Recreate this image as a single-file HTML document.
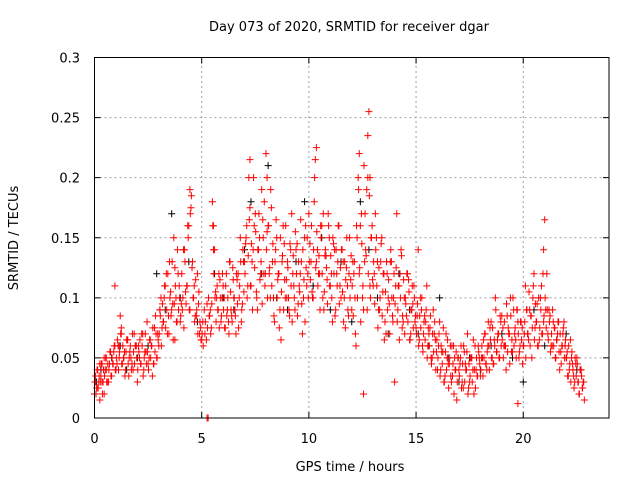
<!DOCTYPE html>
<html><head><meta charset="utf-8"><style>
html,body{margin:0;padding:0;background:#fff;}
svg text{font-family:"DejaVu Sans","Liberation Sans",sans-serif;font-size:13px;fill:#000;}
</style></head><body>
<svg id="chart" width="640" height="480" viewBox="0 0 640 480" xmlns="http://www.w3.org/2000/svg">
<text x="349" y="31" text-anchor="middle">Day 073 of 2020, SRMTID for receiver dgar</text>
<text x="350" y="471" text-anchor="middle">GPS time / hours</text>
<text transform="translate(18,238) rotate(-90)" text-anchor="middle">SRMTID / TECUs</text>
<g id="grid"></g>
<g id="blk"></g>
<g id="red"></g>
<g id="axes"></g>
</svg>
<script>
const xTicks=[0,5,10,15,20];
const yTicks=[0,0.05,0.1,0.15,0.2,0.25,0.3];
const yTickLabels=["0","0.05","0.1","0.15","0.2","0.25","0.3"];
const blackPoints=[[0.1,0.03],[0.3,0.04],[0.8,0.05],[1.2,0.06],[1.5,0.04],[2.0,0.05],[2.5,0.06],[2.9,0.12],[3.3,0.09],[3.6,0.17],[4.0,0.1],[4.4,0.13],[4.8,0.08],[5.6,0.12],[6.0,0.1],[6.5,0.09],[7.0,0.14],[7.3,0.18],[7.8,0.12],[8.1,0.21],[8.5,0.1],[9.0,0.09],[9.4,0.13],[9.8,0.18],[10.2,0.11],[10.6,0.15],[11.0,0.09],[11.5,0.13],[12.0,0.08],[12.4,0.18],[12.8,0.14],[13.2,0.1],[13.7,0.07],[14.2,0.12],[14.7,0.09],[15.1,0.07],[15.6,0.06],[16.1,0.1],[16.5,0.05],[17.0,0.03],[17.5,0.05],[18.0,0.04],[18.5,0.06],[19.0,0.07],[19.5,0.05],[20.0,0.03],[20.5,0.09],[21.0,0.06],[21.5,0.05],[22.0,0.07],[22.5,0.04],[22.8,0.03]];
const redPoints=[[0.0,0.02],[0.05,0.03],[0.1,0.025],[0.15,0.04],[0.2,0.03],[0.25,0.015],[0.3,0.035],[0.35,0.045],[0.4,0.03],[0.45,0.02],[0.5,0.04],[0.55,0.05],[0.6,0.03],[0.7,0.045],[0.8,0.035],[0.9,0.055],[1.0,0.04],[0.95,0.11],[1.1,0.06],[1.15,0.05],[1.2,0.085],[1.25,0.07],[1.3,0.045],[1.4,0.055],[1.5,0.065],[1.6,0.035],[1.7,0.05],[1.8,0.04],[1.9,0.06],[2.0,0.03],[2.1,0.05],[2.2,0.07],[2.3,0.04],[2.4,0.055],[2.5,0.045],[2.6,0.065],[2.7,0.035],[2.8,0.075],[2.9,0.05],[3.0,0.06],[3.05,0.09],[3.1,0.1],[3.2,0.08],[3.3,0.11],[3.4,0.07],[3.5,0.13],[3.6,0.09],[3.7,0.15],[3.75,0.065],[3.8,0.1],[3.9,0.12],[4.0,0.08],[4.1,0.09],[4.2,0.14],[4.3,0.11],[4.4,0.16],[4.45,0.19],[4.5,0.175],[4.6,0.1],[4.7,0.085],[4.8,0.12],[4.9,0.07],[5.0,0.065],[5.25,0.0],[5.3,0.0],[5.4,0.09],[5.5,0.18],[5.55,0.16],[5.6,0.14],[5.7,0.1],[5.8,0.12],[5.9,0.08],[6.0,0.11],[6.1,0.075],[6.2,0.09],[6.3,0.13],[6.4,0.085],[6.5,0.1],[6.6,0.07],[6.7,0.12],[6.8,0.15],[6.9,0.095],[7.0,0.13],[7.1,0.16],[7.2,0.2],[7.25,0.215],[7.3,0.11],[7.4,0.14],[7.5,0.17],[7.6,0.09],[7.7,0.15],[7.8,0.19],[7.9,0.12],[8.0,0.22],[8.05,0.2],[8.1,0.16],[8.2,0.1],[8.3,0.13],[8.4,0.08],[8.5,0.15],[8.6,0.12],[8.7,0.065],[8.8,0.16],[8.9,0.1],[9.0,0.13],[9.1,0.085],[9.2,0.17],[9.3,0.11],[9.4,0.14],[9.5,0.095],[9.6,0.12],[9.7,0.07],[9.8,0.15],[9.9,0.11],[10.0,0.17],[10.1,0.13],[10.2,0.1],[10.3,0.215],[10.35,0.225],[10.4,0.14],[10.5,0.12],[10.6,0.16],[10.7,0.09],[10.8,0.135],[10.9,0.17],[11.0,0.11],[11.1,0.08],[11.2,0.14],[11.3,0.12],[11.4,0.16],[11.5,0.1],[11.6,0.13],[11.7,0.075],[11.8,0.11],[11.9,0.15],[12.0,0.09],[12.1,0.12],[12.2,0.06],[12.3,0.2],[12.35,0.22],[12.4,0.16],[12.5,0.1],[12.55,0.02],[12.6,0.13],[12.7,0.19],[12.75,0.235],[12.8,0.255],[12.85,0.2],[12.9,0.15],[13.0,0.11],[13.1,0.17],[13.2,0.13],[13.3,0.09],[13.4,0.15],[13.5,0.12],[13.6,0.07],[13.7,0.1],[13.8,0.13],[13.9,0.085],[14.0,0.03],[14.1,0.17],[14.2,0.11],[14.3,0.14],[14.4,0.08],[14.5,0.1],[14.6,0.12],[14.7,0.065],[14.8,0.09],[14.9,0.11],[15.0,0.075],[15.1,0.14],[15.2,0.1],[15.3,0.06],[15.4,0.085],[15.5,0.11],[15.6,0.07],[15.7,0.05],[15.8,0.09],[15.9,0.065],[16.0,0.04],[16.1,0.08],[16.2,0.055],[16.3,0.03],[16.4,0.07],[16.5,0.045],[16.6,0.06],[16.7,0.035],[16.8,0.05],[16.9,0.015],[17.0,0.04],[17.1,0.06],[17.2,0.025],[17.3,0.045],[17.4,0.07],[17.5,0.03],[17.6,0.05],[17.7,0.02],[17.8,0.04],[17.9,0.06],[18.0,0.035],[18.1,0.05],[18.2,0.07],[18.3,0.04],[18.4,0.06],[18.5,0.08],[18.6,0.045],[18.7,0.1],[18.8,0.065],[18.9,0.05],[19.0,0.085],[19.1,0.06],[19.2,0.04],[19.3,0.075],[19.4,0.1],[19.5,0.055],[19.6,0.07],[19.7,0.09],[19.75,0.012],[19.8,0.05],[19.9,0.08],[20.0,0.06],[20.1,0.11],[20.2,0.07],[20.3,0.09],[20.4,0.05],[20.5,0.12],[20.6,0.08],[20.7,0.06],[20.8,0.1],[20.9,0.07],[20.95,0.14],[21.0,0.165],[21.1,0.12],[21.2,0.09],[21.3,0.06],[21.4,0.08],[21.5,0.05],[21.6,0.07],[21.7,0.04],[21.8,0.06],[21.9,0.08],[22.0,0.05],[22.1,0.035],[22.2,0.065],[22.3,0.045],[22.4,0.03],[22.5,0.05],[22.6,0.02],[22.7,0.04],[22.8,0.03],[22.85,0.015]];
const denseAStart=0.02, denseAStep=0.05;
const denseAValues=[0.03,0.02,0.04,0.025,0.035,0.03,0.045,0.02,0.04,0.035,0.05,0.03,0.045,0.04,0.055,0.035,0.05,0.045,0.06,0.04,
0.05,0.065,0.04,0.055,0.07,0.045,0.06,0.05,0.035,0.055,0.065,0.045,0.05,0.06,0.04,0.07,0.055,0.045,0.06,0.05,
0.04,0.055,0.065,0.045,0.06,0.035,0.05,0.07,0.045,0.055,0.04,0.065,0.05,0.06,0.075,0.045,0.055,0.07,0.05,0.065,
0.07,0.085,0.06,0.095,0.08,0.11,0.075,0.09,0.12,0.07,0.1,0.085,0.13,0.065,0.095,0.11,0.08,0.14,0.09,0.1,
0.085,0.12,0.1,0.075,0.13,0.095,0.11,0.15,0.09,0.17,0.185,0.13,0.1,0.08,0.115,0.09,0.07,0.105,0.08,0.065,
0.07,0.06,0.09,0.08,0.065,0.075,0.1,0.085,0.07,0.095,0.16,0.12,0.1,0.08,0.11,0.09,0.075,0.1,0.085,0.12,
0.09,0.075,0.11,0.085,0.1,0.07,0.13,0.09,0.08,0.115,0.1,0.085,0.12,0.095,0.075,0.11,0.13,0.09,0.14,0.105,
0.12,0.15,0.1,0.135,0.165,0.11,0.145,0.09,0.2,0.125,0.155,0.1,0.14,0.17,0.115,0.13,0.095,0.15,0.18,0.12,
0.14,0.1,0.16,0.125,0.19,0.11,0.145,0.085,0.13,0.165,0.1,0.12,0.075,0.15,0.105,0.135,0.09,0.115,0.16,0.1,
0.125,0.09,0.145,0.11,0.08,0.135,0.1,0.155,0.12,0.085,0.13,0.105,0.165,0.095,0.14,0.115,0.08,0.125,0.15,0.1,
0.13,0.115,0.16,0.1,0.14,0.2,0.125,0.155,0.11,0.135,0.09,0.15,0.12,0.17,0.105,0.14,0.125,0.095,0.16,0.11,
0.135,0.1,0.15,0.12,0.085,0.14,0.11,0.16,0.095,0.125,0.14,0.105,0.08,0.13,0.115,0.15,0.09,0.12,0.1,0.135,
0.11,0.085,0.13,0.07,0.16,0.1,0.19,0.125,0.08,0.145,0.11,0.21,0.17,0.135,0.09,0.12,0.185,0.1,0.15,0.115,
0.13,0.095,0.14,0.11,0.075,0.125,0.1,0.145,0.085,0.12,0.065,0.105,0.13,0.09,0.115,0.07,0.14,0.1,0.08,0.12,
0.095,0.125,0.08,0.11,0.065,0.1,0.135,0.085,0.115,0.07,0.095,0.12,0.08,0.105,0.065,0.09,0.11,0.075,0.1,0.085,
0.07,0.095,0.06,0.085,0.075,0.1,0.055,0.08,0.065,0.09,0.05,0.075,0.06,0.085,0.045,0.07,0.055,0.08,0.04,0.065,
0.05,0.07,0.035,0.06,0.045,0.075,0.03,0.055,0.04,0.065,0.025,0.05,0.035,0.06,0.045,0.02,0.04,0.055,0.03,0.05,
0.035,0.05,0.025,0.045,0.06,0.03,0.04,0.055,0.02,0.045,0.035,0.05,0.03,0.065,0.04,0.025,0.05,0.035,0.055,0.045,
0.04,0.06,0.035,0.05,0.07,0.045,0.055,0.08,0.04,0.065,0.05,0.075,0.045,0.06,0.09,0.055,0.07,0.05,0.085,0.06,
0.065,0.05,0.08,0.06,0.095,0.055,0.07,0.045,0.085,0.065,0.1,0.06,0.075,0.05,0.09,0.07,0.055,0.08,0.065,0.045,
0.06,0.08,0.05,0.09,0.07,0.105,0.06,0.085,0.075,0.11,0.065,0.095,0.08,0.06,0.1,0.075,0.09,0.07,0.12,0.085,
0.1,0.075,0.09,0.065,0.08,0.055,0.07,0.09,0.06,0.075,0.05,0.065,0.08,0.055,0.07,0.045,0.06,0.075,0.05,0.065,
0.05,0.035,0.06,0.045,0.03,0.055,0.04,0.025,0.05,0.035,0.045,0.03,0.02,0.04,0.035,0.025,0.03];
const denseBStart=0.05, denseBStep=0.1;
const denseBValues=[0.035,0.025,0.045,0.03,0.05,0.04,0.03,0.055,0.045,0.06,
0.045,0.06,0.075,0.05,0.04,0.065,0.055,0.045,0.07,0.06,
0.06,0.045,0.07,0.055,0.08,0.05,0.06,0.045,0.085,0.07,
0.09,0.075,0.1,0.12,0.085,0.105,0.095,0.125,0.08,0.11,
0.095,0.14,0.105,0.16,0.09,0.125,0.11,0.085,0.095,0.075,
0.08,0.07,0.095,0.085,0.075,0.14,0.105,0.09,0.115,0.1,
0.1,0.12,0.08,0.105,0.125,0.09,0.115,0.1,0.08,0.13,
0.145,0.11,0.175,0.13,0.16,0.105,0.14,0.12,0.165,0.11,
0.155,0.12,0.175,0.1,0.14,0.115,0.09,0.13,0.145,0.115,
0.1,0.14,0.12,0.09,0.145,0.11,0.13,0.1,0.16,0.12,
0.145,0.105,0.18,0.13,0.12,0.16,0.1,0.135,0.115,0.15,
0.12,0.145,0.09,0.13,0.11,0.14,0.1,0.125,0.085,0.115,
0.13,0.1,0.15,0.12,0.17,0.09,0.14,0.2,0.11,0.16,
0.12,0.15,0.09,0.13,0.105,0.08,0.12,0.095,0.13,0.1,
0.11,0.09,0.12,0.075,0.1,0.085,0.115,0.07,0.095,0.08,
0.085,0.065,0.09,0.07,0.08,0.06,0.075,0.05,0.07,0.055,
0.06,0.04,0.055,0.035,0.05,0.045,0.03,0.06,0.04,0.05,
0.045,0.03,0.055,0.04,0.025,0.05,0.04,0.06,0.035,0.05,
0.05,0.065,0.045,0.06,0.075,0.05,0.065,0.055,0.07,0.08,
0.075,0.06,0.085,0.07,0.055,0.09,0.065,0.08,0.06,0.075,
0.07,0.09,0.065,0.085,0.1,0.075,0.095,0.065,0.11,0.08,
0.09,0.07,0.085,0.06,0.075,0.065,0.08,0.055,0.07,0.06,
0.055,0.04,0.05,0.035,0.045,0.03,0.04,0.025];

const NS="http://www.w3.org/2000/svg";
const X0=94.5,X1=609,Y0=418,Y1=57.5,XMAX=24,YMAX=0.3;
function xs(t){return X0+(X1-X0)*t/XMAX;}
function ys(v){return Y0-(Y0-Y1)*v/YMAX;}
function mk(tag,attrs,parent){const e=document.createElementNS(NS,tag);for(const k in attrs)e.setAttribute(k,attrs[k]);parent.appendChild(e);return e;}
const grid=document.getElementById('grid'),axes=document.getElementById('axes');
xTicks.forEach((t,i)=>{
  const x=xs(t);
  if(t>0){const g=mk('line',{x1:x,y1:Y0,x2:x,y2:Y1,stroke:'#a0a0a0','stroke-dasharray':'2,3','stroke-width':1},grid);
  
  }
  const tk=mk('path',{d:`M${x},${Y0}v-6M${x},${Y1}v6`,stroke:'#000','stroke-width':1},axes);
  
  
  const lb=mk('text',{x:x,y:443,'text-anchor':'middle'},axes);lb.textContent=String(t);
  
  
});
yTicks.forEach((v,i)=>{
  const y=ys(v);
  if(v>0&&v<YMAX){const g=mk('line',{x1:X0,y1:y,x2:X1,y2:y,stroke:'#a0a0a0','stroke-dasharray':'2,3','stroke-width':1},grid);
  
  }
  const tk=mk('path',{d:`M${X0},${y}h6M${X1},${y}h-6`,stroke:'#000','stroke-width':1},axes);
  
  
  const lb=mk('text',{x:80,y:y+5,'text-anchor':'end'},axes);lb.textContent=yTickLabels[i];
  
  
});
const fr=mk('rect',{x:X0,y:Y1,width:X1-X0,height:Y0-Y1,fill:'none',stroke:'#000','stroke-width':1},axes);


function plus(pts,g,col,name){
  pts.forEach(p=>{const x=xs(p[0]),y=ys(p[1]);
    const e=mk('path',{d:`M${x-3.5},${y}h7M${x},${y-3.5}v7`,stroke:col,'stroke-width':1},g);
    
    
  });
}
function series(start,step,vals){return vals.map((v,i)=>[start+i*step,v]);}
plus(blackPoints,document.getElementById('blk'),'#000','black-point');
plus(series(denseAStart,denseAStep,denseAValues),document.getElementById('red'),'#f00','red-point');
plus(series(denseBStart,denseBStep,denseBValues),document.getElementById('red'),'#f00','red-point');
plus(redPoints,document.getElementById('red'),'#f00','red-point');
</script>
</body></html>
